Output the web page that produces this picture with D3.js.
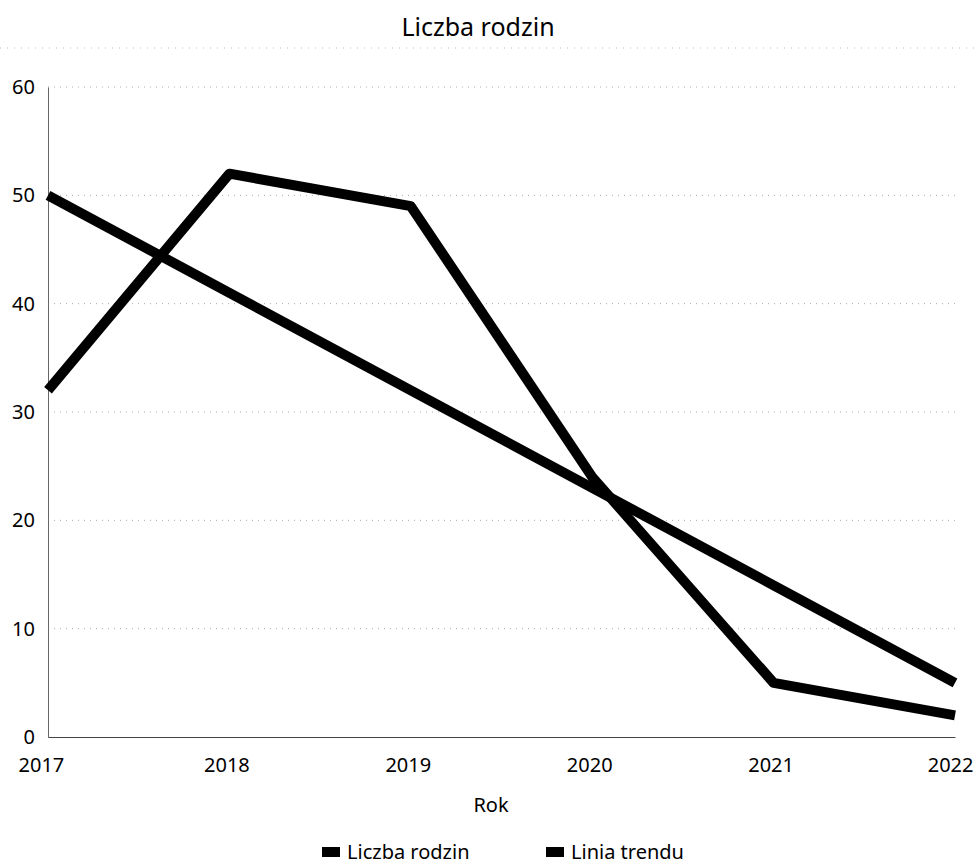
<!DOCTYPE html>
<html><head><meta charset="utf-8">
<script src="https://cdn.jsdelivr.net/npm/d3@7"></script>
<style>body{margin:0;background:#fff;} text{font-family:"Noto Sans",sans-serif;fill:#000;}</style>
</head><body><svg id="c" width="979" height="864"></svg>
<script>
const years = ["2017","2018","2019","2020","2021","2022"];
const liczbaRodzin = [32, 52, 49, 24, 5, 2];
const liniaTrendu = [50, 41, 32, 23, 14, 5];
const yTicks = [0, 10, 20, 30, 40, 50, 60];
const seriesNames = ["Liczba rodzin", "Linia trendu"];

const svg = d3.select("#c");
const m = {l: 48, r: 955, t: 87, b: 737};
const x = d3.scalePoint().domain(years).range([m.l, m.r]);
const y = d3.scaleLinear().domain([0, 60]).range([m.b, m.t]);

// title
svg.append("text").attr("x", 478).attr("y", 36).attr("text-anchor", "middle")
  .attr("font-size", 25).text("Liczba rodzin");
svg.append("line").attr("x1", 0).attr("x2", 979).attr("y1", 48).attr("y2", 48)
  .attr("stroke", "#bbb").attr("stroke-dasharray", "1,6");

// grid
svg.append("g").selectAll("line").data(yTicks.filter(d => d > 0)).join("line")
  .attr("x1", m.l).attr("x2", m.r).attr("y1", d => y(d)).attr("y2", d => y(d))
  .attr("stroke", "#aaa").attr("stroke-dasharray", "1,5");

// y axis
const ya = svg.append("g").attr("transform", `translate(${m.l},0)`)
  .call(d3.axisLeft(y).tickValues(yTicks).tickSize(0).tickPadding(13));
ya.select(".domain").attr("stroke", "#666");
ya.selectAll("text").attr("font-size", 20).attr("font-family", "Noto Sans").attr("fill", "#000");

// x axis
const xa = svg.append("g").attr("transform", `translate(0,${m.b})`)
  .call(d3.axisBottom(x).tickSize(0).tickPadding(21));
xa.select(".domain").attr("stroke", "#444");
xa.selectAll("text").attr("font-size", 20).attr("font-family", "Noto Sans").attr("fill", "#000")
  .attr("dx", (d, i) => i === 0 ? 0 : (i === years.length - 1 ? 0 : -3))
  .attr("text-anchor", (d, i) => i === 0 ? "start" : (i === years.length - 1 ? "end" : "middle"))
  .attr("x", (d, i) => i === 0 ? -30 : (i === years.length - 1 ? 18 : 0));

svg.append("text").attr("x", 491).attr("y", 812).attr("text-anchor", "middle")
  .attr("font-size", 20).text("Rok");

// lines
const line = d3.line().x((d, i) => x(years[i])).y(d => y(d));
[liczbaRodzin, liniaTrendu].forEach(s => {
  svg.append("path").datum(s).attr("d", line).attr("fill", "none")
    .attr("stroke", "#000").attr("stroke-width", 10).attr("stroke-linejoin", "round");
});

// legend
const lg = svg.append("g");
const lx = [322, 546];
seriesNames.forEach((n, i) => {
  lg.append("rect").attr("x", lx[i]).attr("y", 847).attr("width", 18).attr("height", 10).attr("fill", "#000");
  lg.append("text").attr("x", lx[i] + 25).attr("y", 859).attr("font-size", 20).text(n);
});
</script></body></html>
